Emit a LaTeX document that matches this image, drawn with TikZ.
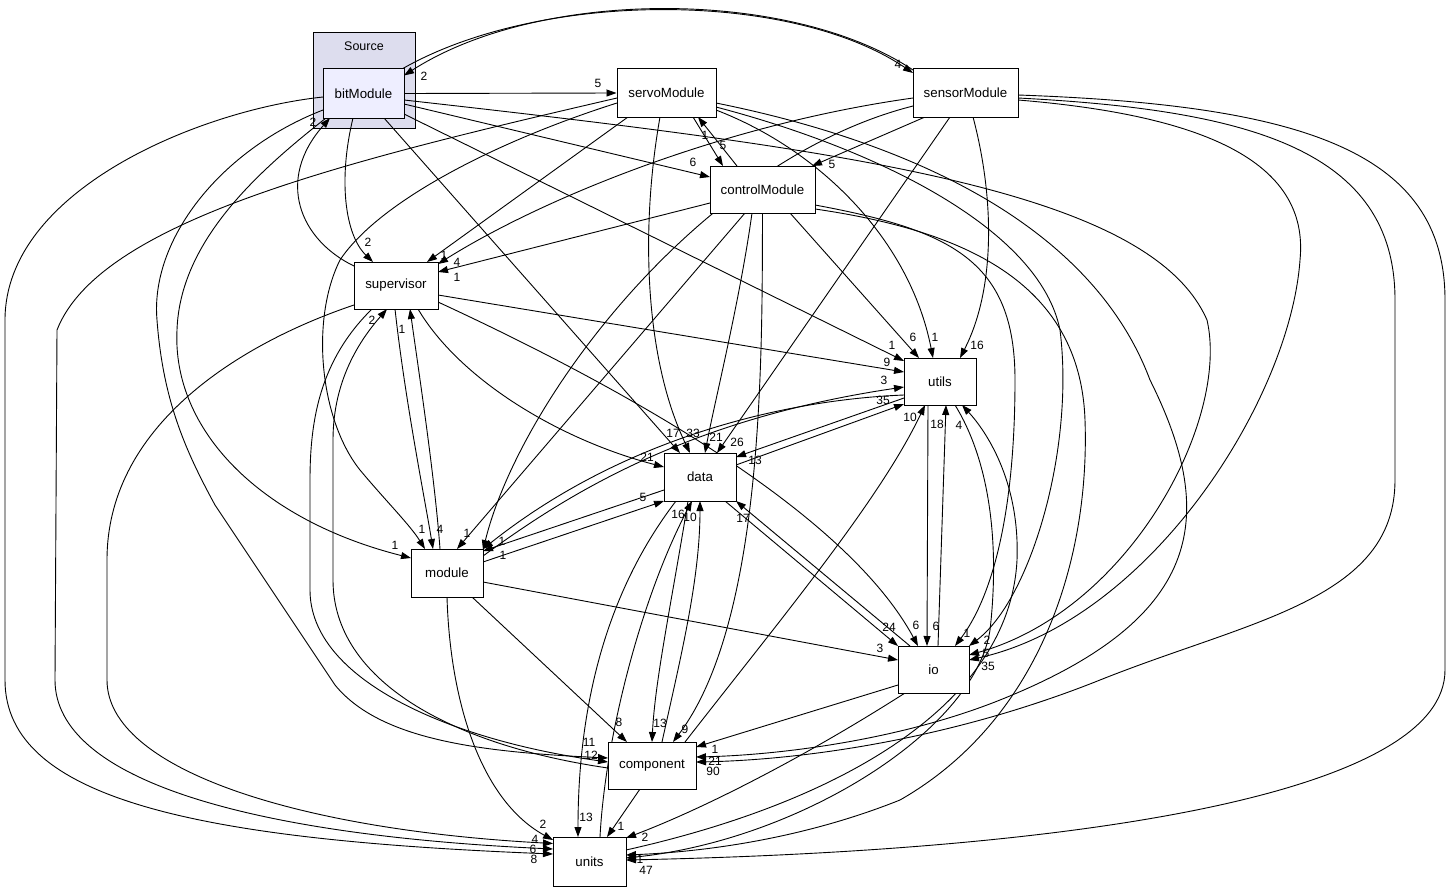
\documentclass[tikz,border=0pt]{standalone}
\usepackage{fontspec}
\setmainfont{Liberation Sans}
\usetikzlibrary{arrows.meta}
\pgfdeclarelayer{clusterlayer}
\pgfdeclarelayer{edgelayer}
\pgfsetlayers{clusterlayer,edgelayer,main}
\definecolor{clusterfill}{HTML}{DDDDEE}
\definecolor{selfill}{HTML}{EEEEFF}
\begin{document}
\begin{tikzpicture}[x=1pt,y=-1pt,
  box/.style={draw=black,line width=1pt,fill=white,inner sep=0pt,font=\fontsize{13.3}{16}\selectfont},
  e/.style={line width=0.9pt,-{Triangle[length=10pt,width=7pt]}},
  lbl/.style={inner sep=0pt,font=\fontsize{12}{12}\selectfont}]
\useasboundingbox (0,0) rectangle (1451,891);
\begin{pgfonlayer}{clusterlayer}
\node[draw=black,line width=1pt,fill=clusterfill,minimum width=102pt,minimum height=95pt,inner sep=0pt] (src) at (364,80.5) {};
\end{pgfonlayer}
\node[inner sep=0pt,font=\fontsize{12.5}{14}\selectfont] (srclbl) at (364,46) {Source};
\node[box,fill=selfill,minimum width=81pt,minimum height=49pt] (bit) at (363.5,93.5) {bitModule};
\node[box,minimum width=99pt,minimum height=48pt] (servo) at (666.5,93) {servoModule};
\node[box,minimum width=105pt,minimum height=48pt] (sensor) at (965.5,93) {sensorModule};
\node[box,minimum width=105pt,minimum height=47pt] (control) at (762.5,189.5) {controlModule};
\node[box,minimum width=84pt,minimum height=47pt] (sup) at (396,285.5) {supervisor};
\node[box,minimum width=72pt,minimum height=47pt] (utils) at (940,381.5) {utils};
\node[box,minimum width=72pt,minimum height=48pt] (data) at (700,477) {data};
\node[box,minimum width=72pt,minimum height=48pt] (module) at (447,573) {module};
\node[box,minimum width=71pt,minimum height=47pt] (io) at (933.5,669.5) {io};
\node[box,minimum width=88pt,minimum height=47pt] (comp) at (652,765.5) {component};
\node[box,minimum width=73pt,minimum height=49pt] (units) at (589.5,861.5) {units};

\begin{pgfonlayer}{edgelayer}
% bitModule
\draw[e] ([shift={(38.5,-24.5)}]bit.center) .. controls (540,-10) and (790,-10) .. ([shift={(-52.5,-20)}]sensor.center);
\draw[e] ([shift={(-52.5,-23)}]sensor.center) .. controls (790,-12) and (540,-12) .. ([shift={(40.5,-18)}]bit.center);
\draw[e] (bit.east) -- (servo.west);
\draw[e] ([shift={(40.5,10.5)}]bit.center) -- ([shift={(-52.5,-12.5)}]control.center);
\draw[e] ([shift={(-10.5,24.5)}]bit.center) .. controls (338,180) and (345,235) .. ([shift={(-23,-23.5)}]sup.center);
\draw[e] ([shift={(-37.5,24.5)}]bit.center) .. controls (260,170) and (180,240) .. (177,330) .. controls (172,430) and (260,520) .. ([shift={(-36,-15)}]module.center);
\draw[e] ([shift={(20.5,24.5)}]bit.center) -- ([shift={(-20,-24)}]data.center);
\draw[e] ([shift={(40.5,20.5)}]bit.center) -- ([shift={(-36,-20.5)}]utils.center);
\draw[e] ([shift={(-40.5,16.5)}]bit.center) .. controls (220,150) and (150,240) .. (157,320) .. controls (163,400) and (185,450) .. (215,505) -- (335,685) .. controls (380,740) and (480,752) .. ([shift={(-44,-7.5)}]comp.center);
\draw[e] ([shift={(-40.5,3.5)}]bit.center) .. controls (200,110) and (5,190) .. (5,320) -- (5,680) .. controls (5,800) and (200,840) .. ([shift={(-36.5,-7.5)}]units.center);
\draw[e] ([shift={(40.5,6.5)}]bit.center) .. controls (850,150) and (1150,190) .. (1207,320) .. controls (1230,420) and (1130,610) .. ([shift={(35.5,-14.5)}]io.center);
% sensorModule
\draw[e] ([shift={(52.5,2)}]sensor.center) .. controls (1300,105) and (1445,150) .. (1445,300) -- (1445,670) .. controls (1445,790) and (1100,850) .. ([shift={(36.5,-1.5)}]units.center);
\draw[e] ([shift={(52.5,5)}]sensor.center) .. controls (1250,110) and (1395,150) .. (1395,300) -- (1395,480) .. controls (1395,600) and (1250,620) .. (1100,680) .. controls (950,740) and (800,760) .. ([shift={(44,-3.5)}]comp.center);
\draw[e] ([shift={(52.5,7)}]sensor.center) .. controls (1200,115) and (1310,160) .. (1300,260) .. controls (1290,400) and (1150,620) .. ([shift={(35.5,-9.5)}]io.center);
\draw[e] ([shift={(-40.5,24)}]sensor.center) -- ([shift={(49.5,-23.5)}]control.center);
\draw[e] ([shift={(-52.5,5)}]sensor.center) .. controls (720,125) and (540,200) .. ([shift={(42,-21.5)}]sup.center);
\draw[e] ([shift={(-52.5,13)}]sensor.center) .. controls (700,160) and (520,400) .. ([shift={(36,-23)}]module.center);
\draw[e] ([shift={(-15.5,24)}]sensor.center) -- ([shift={(17,-24)}]data.center);
\draw[e] ([shift={(7.5,24)}]sensor.center) .. controls (995,200) and (995,290) .. ([shift={(20,-23.5)}]utils.center);
% servoModule
\draw[e] ([shift={(49.5,14)}]servo.center) .. controls (880,150) and (1040,230) .. (1060,330) .. controls (1075,450) and (1030,600) .. ([shift={(35.5,-23.5)}]io.center);
\draw[e] ([shift={(49.5,10)}]servo.center) .. controls (900,140) and (1090,220) .. (1150,380) .. controls (1220,520) and (1200,620) .. (1000,700) .. controls (900,740) and (780,755) .. ([shift={(44,-8.5)}]comp.center);
\draw[e] ([shift={(49.5,17)}]servo.center) .. controls (820,150) and (910,240) .. ([shift={(-7,-23.5)}]utils.center);
\draw[e] ([shift={(26.5,24)}]servo.center) -- ([shift={(-39.5,-23.5)}]control.center);
\draw[e] ([shift={(-38.5,24)}]servo.center) -- ([shift={(31,-23.5)}]sup.center);
\draw[e] ([shift={(-49.5,10)}]servo.center) .. controls (500,140) and (380,200) .. (340,260) .. controls (310,320) and (320,420) .. (360,470) .. controls (385,500) and (410,525) .. ([shift={(-22,-24)}]module.center);
\draw[e] ([shift={(-49.5,5)}]servo.center) .. controls (350,160) and (100,220) .. (57,330) -- (55,680) .. controls (55,780) and (250,835) .. ([shift={(-36.5,-12.5)}]units.center);
\draw[e] ([shift={(-6.5,24)}]servo.center) .. controls (640,230) and (645,360) .. ([shift={(-10,-24)}]data.center);
% controlModule
\draw[e] ([shift={(-25.5,-23.5)}]control.center) -- ([shift={(31.5,24)}]servo.center);
\draw[e] ([shift={(52.5,15.5)}]control.center) .. controls (950,230) and (1015,260) .. (1015,380) .. controls (1015,520) and (990,600) .. ([shift={(21.5,-23.5)}]io.center);
\draw[e] ([shift={(52.5,19.5)}]control.center) .. controls (960,230) and (1080,280) .. (1085,420) .. controls (1090,560) and (1040,720) .. (900,800) .. controls (800,840) and (700,852) .. ([shift={(36.5,-6.5)}]units.center);
\draw[e] ([shift={(-52.5,13.5)}]control.center) -- ([shift={(42,-13.5)}]sup.center);
\draw[e] ([shift={(-17.5,23.5)}]control.center) -- ([shift={(10,-24)}]module.center);
\draw[e] ([shift={(-10.5,23.5)}]control.center) .. controls (740,300) and (715,400) .. ([shift={(5,-24)}]data.center);
\draw[e] ([shift={(27.5,23.5)}]control.center) -- ([shift={(-21,-23.5)}]utils.center);
\draw[e] ([shift={(0,23.5)}]control.center) .. controls (762,350) and (765,620) .. ([shift={(21,-23.5)}]comp.center);
% supervisor
\draw[e] ([shift={(-42,-19.5)}]sup.center) .. controls (300,240) and (275,180) .. ([shift={(-33.5,24.5)}]bit.center);
\draw[e] ([shift={(-1,23.5)}]sup.center) .. controls (405,400) and (425,500) .. ([shift={(-14,-24)}]module.center);
\draw[e] ([shift={(-7,-24)}]module.center) .. controls (435,480) and (420,380) .. ([shift={(14,23.5)}]sup.center);
\draw[e] ([shift={(22,23.5)}]sup.center) .. controls (460,380) and (560,440) .. ([shift={(-36,-10)}]data.center);
\draw[e] ([shift={(42,9.5)}]sup.center) -- ([shift={(-36,-9.5)}]utils.center);
\draw[e] ([shift={(42,16.5)}]sup.center) .. controls (650,400) and (850,520) .. ([shift={(-15.5,-23.5)}]io.center);
\draw[e] ([shift={(-24,23.5)}]sup.center) .. controls (320,360) and (310,420) .. (310,480) -- (310,590) .. controls (310,680) and (450,740) .. ([shift={(-44,-3.5)}]comp.center);
\draw[e] ([shift={(-44,2.5)}]comp.center) .. controls (450,745) and (333,680) .. (333,580) -- (333,440) .. controls (333,380) and (360,340) .. ([shift={(-9,23.5)}]sup.center);
\draw[e] ([shift={(-42,19.5)}]sup.center) .. controls (250,340) and (107,420) .. (107,560) -- (107,680) .. controls (107,770) and (300,830) .. ([shift={(-36.5,-18)}]units.center);
% module
\draw[e] ([shift={(36,-11)}]module.center) -- ([shift={(-36,24)}]data.center);
\draw[e] ([shift={(-36,13)}]data.center) -- ([shift={(36,-22)}]module.center);
\draw[e] ([shift={(-36,13.5)}]utils.center) .. controls (780,400) and (620,440) .. ([shift={(36,-24)}]module.center);
\draw[e] ([shift={(36,-17)}]module.center) .. controls (560,500) and (680,420) .. ([shift={(-36,5.5)}]utils.center);
\draw[e] ([shift={(36,9)}]module.center) -- ([shift={(-35.5,-9.5)}]io.center);
\draw[e] ([shift={(25,24)}]module.center) -- ([shift={(-25,-23.5)}]comp.center);
\draw[e] ([shift={(0,24)}]module.center) .. controls (450,700) and (480,800) .. ([shift={(-36.5,-21.5)}]units.center);
% data / utils / io / component / units
\draw[e] ([shift={(-36,16.5)}]utils.center) -- ([shift={(36,-20)}]data.center);
\draw[e] ([shift={(36,-12)}]data.center) -- ([shift={(-36,22.5)}]utils.center);
\draw[e] ([shift={(25,24)}]data.center) -- ([shift={(-35.5,-23.5)}]io.center);
\draw[e] ([shift={(-23.5,-23.5)}]io.center) -- ([shift={(36,24)}]data.center);
\draw[e] ([shift={(-12,24)}]data.center) .. controls (672,600) and (655,680) .. ([shift={(0,-23.5)}]comp.center);
\draw[e] ([shift={(10,-23.5)}]comp.center) .. controls (680,660) and (700,580) .. ([shift={(0,24)}]data.center);
\draw[e] ([shift={(-24,24)}]data.center) .. controls (600,600) and (578,720) .. ([shift={(-11.5,-24.5)}]units.center);
\draw[e] ([shift={(10.5,-24.5)}]units.center) .. controls (605,740) and (640,600) .. ([shift={(-8,24)}]data.center);
\draw[e] ([shift={(-12,23.5)}]utils.center) -- ([shift={(-6.5,-23.5)}]io.center);
\draw[e] ([shift={(4.5,-23.5)}]io.center) -- ([shift={(6,23.5)}]utils.center);
\draw[e] ([shift={(15,23.5)}]utils.center) .. controls (995,470) and (998,560) .. (990,630) .. controls (975,730) and (800,840) .. ([shift={(36.5,-3.5)}]units.center);
\draw[e] ([shift={(36.5,-11.5)}]units.center) .. controls (850,800) and (1010,700) .. (1017,560) .. controls (1020,480) and (985,430) .. ([shift={(22,23.5)}]utils.center);
\draw[e] ([shift={(33,-23.5)}]comp.center) .. controls (780,620) and (880,500) .. ([shift={(-15,23.5)}]utils.center);
\draw[e] ([shift={(-35.5,15.5)}]io.center) -- ([shift={(44,-18.5)}]comp.center);
\draw[e] ([shift={(-28.5,23.5)}]io.center) .. controls (800,760) and (700,810) .. ([shift={(36.5,-23.5)}]units.center);
\draw[e] ([shift={(-12,23.5)}]comp.center) -- ([shift={(17.5,-24.5)}]units.center);
\end{pgfonlayer}

% labels
\node[lbl] (l01) at (424,76) {2};
\node[lbl] (l02) at (898,64) {4};
\node[lbl] (l03) at (598,83) {5};
\node[lbl] (l04) at (693,162) {6};
\node[lbl] (l05) at (368,242) {2};
\node[lbl] (l06) at (395,545) {1};
\node[lbl] (l07) at (673,433) {17};
\node[lbl] (l08) at (892,345) {1};
\node[lbl] (l09) at (589,742) {11};
\node[lbl] (l10) at (534,859) {8};
\node[lbl] (l11) at (986,653) {5};
\node[lbl] (l12) at (646,870) {47};
\node[lbl] (l13) at (713,771) {90};
\node[lbl] (l14) at (988,666) {35};
\node[lbl] (l15) at (987,640) {2};
\node[lbl] (l16) at (715,761) {21};
\node[lbl] (l17) at (935,337) {1};
\node[lbl] (l18) at (967,633) {1};
\node[lbl] (l19) at (640,859) {1};
\node[lbl] (l20) at (959,425) {4};
\node[lbl] (l21) at (832,164) {5};
\node[lbl] (l22) at (457,262) {4};
\node[lbl] (l23) at (737,442) {26};
\node[lbl] (l24) at (977,345) {16};
\node[lbl] (l25) at (723,145) {5};
\node[lbl] (l26) at (705,135) {1};
\node[lbl] (l27) at (444,255) {1};
\node[lbl] (l28) at (422,529) {1};
\node[lbl] (l29) at (533,849) {6};
\node[lbl] (l30) at (693,433) {33};
\node[lbl] (l31) at (457,277) {1};
\node[lbl] (l32) at (467,533) {1};
\node[lbl] (l33) at (716,437) {21};
\node[lbl] (l34) at (913,337) {6};
\node[lbl] (l35) at (685,729) {9};
\node[lbl] (l36) at (313,122) {2};
\node[lbl] (l37) at (440,529) {4};
\node[lbl] (l38) at (402,329) {1};
\node[lbl] (l39) at (647,457) {21};
\node[lbl] (l40) at (887,362) {9};
\node[lbl] (l41) at (916,625) {6};
\node[lbl] (l42) at (591,755) {12};
\node[lbl] (l43) at (372,320) {2};
\node[lbl] (l44) at (535,839) {4};
\node[lbl] (l45) at (643,497) {5};
\node[lbl] (l46) at (502,541) {1};
\node[lbl] (l47) at (503,555) {1};
\node[lbl] (l48) at (884,380) {3};
\node[lbl] (l49) at (880,648) {3};
\node[lbl] (l50) at (619,722) {8};
\node[lbl] (l51) at (543,824) {2};
\node[lbl] (l52) at (755,460) {13};
\node[lbl] (l53) at (883,400) {35};
\node[lbl] (l54) at (889,627) {24};
\node[lbl] (l55) at (743,518) {17};
\node[lbl] (l56) at (660,723) {13};
\node[lbl] (l57) at (690,517) {10};
\node[lbl] (l58) at (586,817) {13};
\node[lbl] (l59) at (678,514) {16};
\node[lbl] (l60) at (936,626) {6};
\node[lbl] (l61) at (937,424) {18};
\node[lbl] (l62) at (910,417) {10};
\node[lbl] (l63) at (715,749) {1};
\node[lbl] (l64) at (645,837) {2};
\node[lbl] (l65) at (621,826) {1};
\end{tikzpicture}
\end{document}
